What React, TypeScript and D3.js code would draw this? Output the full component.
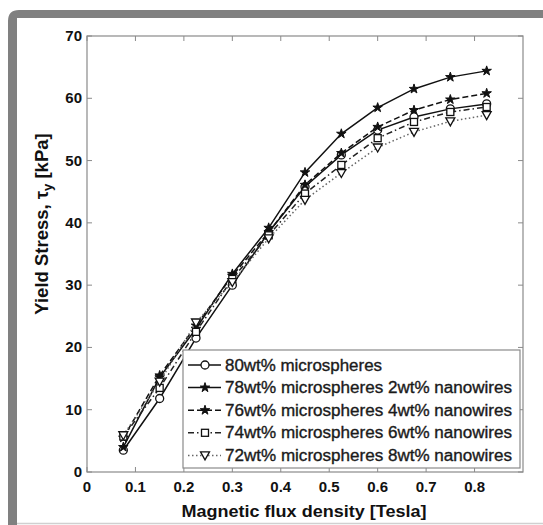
import React from "react";
import * as d3 from "d3";

const fluxDensity = [0.075, 0.15, 0.225, 0.3, 0.375, 0.45, 0.525, 0.6, 0.675, 0.75, 0.825];
const s80 = [3.5, 11.8, 21.5, 30.0, 38.5, 45.8, 50.9, 54.9, 57.0, 58.3, 59.1];
const s78 = [4.0, 15.2, 23.0, 31.8, 39.2, 48.1, 54.3, 58.5, 61.5, 63.4, 64.4];
const s76 = [5.5, 15.5, 23.5, 31.5, 38.5, 46.1, 51.2, 55.4, 58.1, 59.8, 60.8];
const s74 = [5.7, 13.5, 22.5, 31.0, 38.0, 44.7, 49.3, 53.6, 56.2, 57.8, 58.6];
const s72 = [5.9, 14.5, 24.0, 30.5, 37.5, 43.7, 48.0, 52.1, 54.6, 56.3, 57.3];
const seriesLabels = [
  "80wt% microspheres",
  "78wt% microspheres 2wt% nanowires",
  "76wt% microspheres 4wt% nanowires",
  "74wt% microspheres 6wt% nanowires",
  "72wt% microspheres 8wt% nanowires",
];
const xTicks = [0, 0.1, 0.2, 0.3, 0.4, 0.5, 0.6, 0.7, 0.8];
const yTicks = [0, 10, 20, 30, 40, 50, 60, 70];

type Marker = "circle" | "star" | "square" | "triangle";
const styles: { dash: string; marker: Marker; color: string }[] = [
  { dash: "", marker: "circle", color: "#111" },
  { dash: "", marker: "star", color: "#111" },
  { dash: "6,3", marker: "star", color: "#111" },
  { dash: "6,3,1.5,3", marker: "square", color: "#222" },
  { dash: "1.5,2.5", marker: "triangle", color: "#666" },
];
const allSeries = [s80, s78, s76, s74, s72];

const L = 87, R = 523, T = 36, B = 472;
const FONT = "'Liberation Sans', Arial, Helvetica, sans-serif";

function MarkerShape({ type, x, y }: { type: Marker; x: number; y: number }) {
  if (type === "circle")
    return <circle cx={x} cy={y} r={4} fill="white" stroke="#111" strokeWidth={1.3} />;
  if (type === "square")
    return <rect x={x - 3.5} y={y - 3.5} width={7} height={7} fill="white" stroke="#111" strokeWidth={1.3} />;
  if (type === "triangle")
    return <path d={`M${x - 4.5},${y - 3.5}L${x + 4.5},${y - 3.5}L${x},${y + 4.5}Z`} fill="white" stroke="#111" strokeWidth={1.3} />;
  const d = d3.symbol().type(d3.symbolStar).size(28)()!;
  return <path d={d} transform={`translate(${x},${y})`} fill="#111" stroke="#111" strokeWidth={1} />;
}

export default function App() {
  const x = d3.scaleLinear().domain([0, 0.9]).range([L, R]);
  const y = d3.scaleLinear().domain([0, 70]).range([B, T]);
  const line = d3
    .line<number>()
    .x((_, i) => x(fluxDensity[i]))
    .y((d) => y(d));
  const axisColor = "#8a8a8a";
  const legL = 183, legT = 350, legR = 520, legB = 468;
  const rowY = (i: number) => 365 + i * 22.6;

  return (
    <svg width={543} height={525} style={{ position: "absolute", left: 0, top: 0, background: "white" }} fontFamily={FONT}>
      <rect x={0} y={0} width={543} height={525} fill="white" />
      {/* frame */}
      <path d="M8,525 L8,21 Q8,10 19,10 L543,10 L543,18 L17,18 L17,525 Z" fill="#808080" />
      <line x1={17} x2={543} y1={523.5} y2={523.5} stroke="#d0d0d0" strokeWidth={1.5} />

      {/* axes box */}
      <rect x={L} y={T} width={R - L} height={B - T} fill="white" stroke={axisColor} strokeWidth={1.2} />
      {xTicks.map((t) => (
        <g key={"x" + t}>
          <line x1={x(t)} x2={x(t)} y1={B} y2={B - 5} stroke={axisColor} />
          <line x1={x(t)} x2={x(t)} y1={T} y2={T + 5} stroke={axisColor} />
          <text x={x(t)} y={B + 20} textAnchor="middle" fontSize={15} fontWeight="bold" fill="#111">
            {t === 0 ? "0" : t.toFixed(1)}
          </text>
        </g>
      ))}
      {yTicks.map((t) => (
        <g key={"y" + t}>
          <line x1={L} x2={L + 5} y1={y(t)} y2={y(t)} stroke={axisColor} />
          <line x1={R} x2={R - 5} y1={y(t)} y2={y(t)} stroke={axisColor} />
          <text x={L - 5} y={y(t) + 5} textAnchor="end" fontSize={15} fontWeight="bold" fill="#111">
            {t}
          </text>
        </g>
      ))}

      {/* series */}
      {allSeries.map((s, k) => (
        <g key={"s" + k}>
          <path d={line(s)!} fill="none" stroke={styles[k].color} strokeWidth={1.5} strokeDasharray={styles[k].dash} />
          {s.map((v, i) => (
            <MarkerShape key={i} type={styles[k].marker} x={x(fluxDensity[i])} y={y(v)} />
          ))}
        </g>
      ))}

      {/* legend */}
      <rect x={legL} y={legT} width={legR - legL} height={legB - legT} fill="white" stroke={axisColor} strokeWidth={1.2} />
      {seriesLabels.map((lab, i) => (
        <g key={"l" + i}>
          <line x1={188} x2={221} y1={rowY(i)} y2={rowY(i)} stroke={styles[i].color} strokeWidth={1.5} strokeDasharray={styles[i].dash} />
          <MarkerShape type={styles[i].marker} x={205} y={rowY(i)} />
          <text x={225} y={rowY(i) + 5.5} fontSize={16} fill="#1a1a1a" stroke="#1a1a1a" strokeWidth={0.35}
            textLength={lab.length > 20 ? 287 : 157} lengthAdjust="spacingAndGlyphs">
            {lab}
          </text>
        </g>
      ))}

      {/* axis labels */}
      <text x={304} y={517} textAnchor="middle" fontSize={17} fontWeight="bold" fill="#111" textLength={245} lengthAdjust="spacingAndGlyphs">
        Magnetic flux density [Tesla]
      </text>
      <text transform="translate(48,224) rotate(-90)" textAnchor="middle" fontSize={18.5} fontWeight="bold" fill="#111">
        Yield Stress, τ<tspan dy={4} fontSize={13}>y</tspan>
        <tspan dy={-4}> [kPa]</tspan>
      </text>
    </svg>
  );
}
